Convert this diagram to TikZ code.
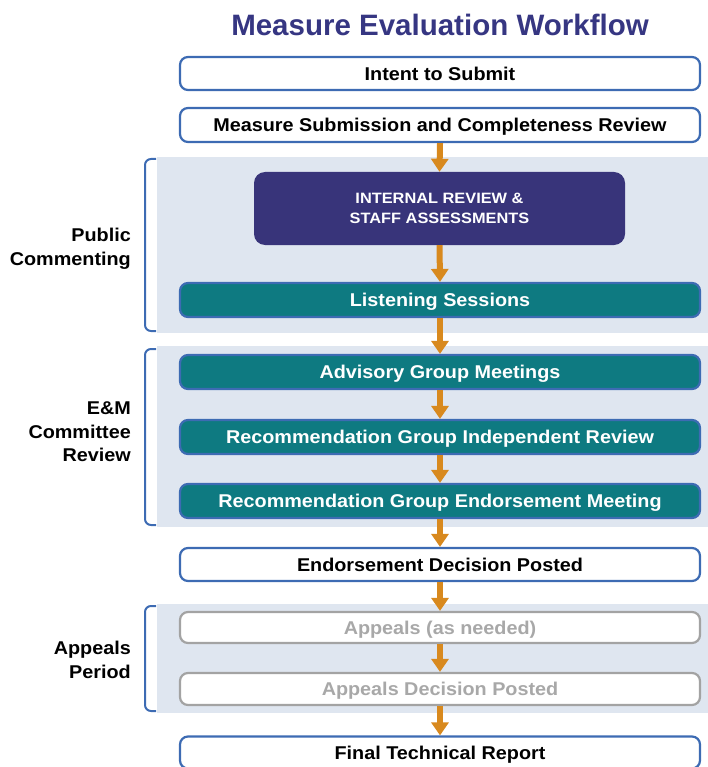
\documentclass[tikz,border=0pt]{standalone}
\usepackage{fontspec}
\setmainfont{Liberation Sans}
\newfontfamily\widefont[FakeStretch=1.07]{Liberation Sans}
\newfontfamily\widerfont[FakeStretch=1.09]{Liberation Sans}
\usetikzlibrary{arrows.meta,backgrounds}
\definecolor{navy}{HTML}{38347A}
\definecolor{titleblue}{HTML}{363682}
\definecolor{tealbox}{HTML}{0E7A81}
\definecolor{bordblue}{HTML}{3D6BB3}
\definecolor{bandfill}{HTML}{DFE6F0}
\definecolor{arrorange}{HTML}{D8891E}
\definecolor{grayline}{HTML}{A3A3A3}
\definecolor{graytext}{HTML}{A8A8A8}
\tikzset{
  boxbase/.style={rectangle, rounded corners=8pt, minimum width=520pt, minimum height=33pt, inner sep=0pt, text height=13.2pt, text depth=0pt, line width=2.2pt, font=\widefont\fontsize{18.5}{20}\selectfont\bfseries},
  whitebox/.style={boxbase, draw=bordblue, fill=white, text=black},
  tealstep/.style={boxbase, draw=bordblue, fill=tealbox, text=white},
  graybox/.style={boxbase, draw=grayline, fill=white, text=graytext},
  navybox/.style={rectangle, rounded corners=11pt, minimum width=371pt, minimum height=73pt, inner sep=0pt, fill=navy, text=white, align=center, font=\widerfont\fontsize{15}{19.5}\selectfont\bfseries},
  flow/.style={draw=arrorange, line width=6pt, -{Triangle[width=17pt,length=13pt]}},
  band/.style={fill=bandfill, draw=none},
  bracketline/.style={draw=bordblue, line width=2pt, rounded corners=6pt},
  sidelabel/.style={anchor=east, align=right, font=\widefont\fontsize{18.5}{23.5}\selectfont\bfseries, text=black, inner sep=0pt}
}
\begin{document}
\begin{tikzpicture}[x=1pt,y=-1pt]
\useasboundingbox (0,0) rectangle (708,767);
% bands
\fill[band] (157,157) rectangle (708,333);
\fill[band] (157,346) rectangle (708,527);
\fill[band] (157,604) rectangle (708,713);
% brackets
\draw[bracketline] (156,159) -- (145,159) -- (145,331) -- (156,331);
\draw[bracketline] (156,349) -- (145,349) -- (145,525) -- (156,525);
\draw[bracketline] (156,606) -- (145,606) -- (145,711) -- (156,711);
% title
\node[font=\fontsize{29.5}{32}\selectfont\bfseries, text=titleblue] (title) at (440,25) {Measure Evaluation Workflow};
% side labels
\node[sidelabel] (lpub) at (131,249) {Public\\Commenting};
\node[sidelabel] (lem) at (131,432) {E\&M\\Committee\\Review};
\node[sidelabel] (lapp) at (131,660) {Appeals\\Period};
% boxes
\node[whitebox] (intent) at (440,73.5) {Intent to Submit};
\node[whitebox, minimum height=34pt] (submit) at (440,125) {Measure Submission and Completeness Review};
\node[navybox] (internal) at (439.5,208.5) {INTERNAL REVIEW \&\\STAFF ASSESSMENTS};
\node[tealstep, minimum height=34pt] (listen) at (440,300) {Listening Sessions};
\node[tealstep, minimum height=34pt] (advisory) at (440,372) {Advisory Group Meetings};
\node[tealstep, minimum height=34pt] (indep) at (440,437) {Recommendation Group Independent Review};
\node[tealstep, minimum height=34pt] (endmeet) at (440,501) {Recommendation Group Endorsement Meeting};
\node[whitebox] (decision) at (440,564.5) {Endorsement Decision Posted};
\node[graybox, minimum height=31pt] (appeals) at (440,627.5) {Appeals (as needed)};
\node[graybox, minimum height=32pt] (appdec) at (440,689) {Appeals Decision Posted};
\node[whitebox, minimum height=32pt] (final) at (440,752.5) {Final Technical Report};
% arrows
\draw[flow] (submit.south) -- (internal.north);
\draw[flow] (internal.south) -- (listen.north);
\draw[flow] (listen.south) -- (advisory.north);
\draw[flow] (advisory.south) -- (indep.north);
\draw[flow] (indep.south) -- (endmeet.north);
\draw[flow] (endmeet.south) -- (decision.north);
\draw[flow] (decision.south) -- (appeals.north);
\draw[flow] (appeals.south) -- (appdec.north);
\draw[flow] (appdec.south) -- (final.north);
\end{tikzpicture}
\end{document}
